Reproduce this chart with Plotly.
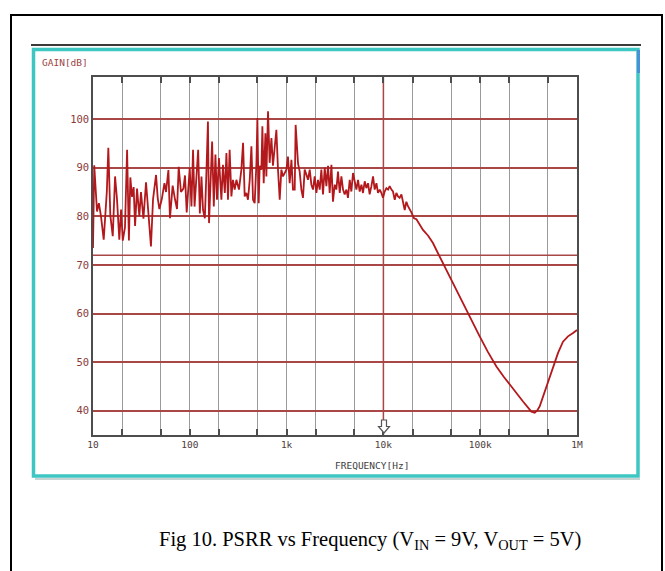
import plotly.graph_objects as go

# ---- measured PSRR sweep (frequency in Hz, gain in dB) ----
freq_a = [10.0, 10.3, 11.0, 11.5, 12.1, 12.9, 13.9, 14.4, 15.1, 16.0, 16.9, 17.7, 18.7, 19.5,
          20.3, 21.4, 22.5, 23.5, 24.3, 25.3, 26.3, 27.2, 28.5, 30.1, 31.3, 33.2, 35.3, 37.3,
          39.7, 41.7, 44.8, 46.6, 48.5, 51.3, 54.7, 56.8, 60.1, 62.4, 66.5, 70.3, 73.8, 76.8,
          81.1, 85.9, 89.2, 92.9, 97.5]
gain_a = [73.5, 90.5, 81.0, 82.7, 80.0, 75.2, 85.1, 94.1, 80.2, 75.9, 88.2, 83.5, 75.2, 81.4,
          75.0, 77.7, 93.7, 75.0, 88.0, 84.0, 86.0, 78.0, 85.7, 80.0, 85.0, 79.5, 87.0, 81.5,
          73.8, 83.5, 88.5, 83.8, 81.5, 83.5, 86.8, 85.0, 89.5, 79.6, 86.3, 83.5, 81.5, 90.2,
          85.0, 85.7, 88.4, 80.8, 87.6]

freq_b = [99.8, 104, 108, 112, 117, 122, 127, 132, 137, 143, 148, 154, 158, 163, 170, 177,
          184, 191, 200, 212, 220, 230, 239, 248, 258, 269, 279, 291, 303, 322, 341, 355,
          369, 384, 399, 416, 433, 450, 468, 488, 499, 515, 527, 549, 562, 580, 604, 618,
          643, 668, 697, 723, 753, 784, 815, 849, 883, 918, 995, 1033, 1076, 1122, 1164, 1213]
gain_b = [90.0, 82.0, 93.7, 82.0, 87.5, 93.7, 80.6, 88.2, 81.3, 79.6, 88.2, 99.5, 78.6, 87.5,
          95.4, 82.0, 92.7, 83.4, 92.0, 83.4, 90.6, 84.8, 93.0, 83.4, 93.7, 84.1, 87.5, 85.5,
          87.5, 85.5, 89.6, 95.1, 84.1, 84.8, 83.4, 87.5, 94.4, 83.4, 82.7, 91.0, 100.2, 82.7,
          90.4, 89.6, 98.5, 86.8, 97.1, 88.2, 101.6, 91.0, 96.1, 90.4, 93.7, 97.8, 89.6, 83.4,
          89.6, 88.2, 89.6, 92.3, 86.8, 91.6, 85.5, 85.5]

freq_c = [1240, 1312, 1365, 1421, 1476, 1538, 1600, 1663, 1733, 1803, 1875, 1950, 2032, 2109,
          2198, 2286, 2377, 2477, 2576, 2679, 2786, 2904, 3013, 3141, 3266, 3396, 3540, 3681,
          3828, 3981, 4150, 4305, 4487, 4667, 4853, 5058, 5260, 5470, 5689, 5929, 6152, 6412,
          6668, 6934, 7211, 7516, 7816, 8128, 8472, 8790, 9162, 9528, 9908, 10304, 10740,
          11169, 11614, 12106, 12560, 13092, 13614, 14158, 14723, 15346, 16596, 17256, 17947,
          19454, 20701, 21928, 23714, 25645]
gain_c = [98.8, 90.9, 89.2, 85.5, 83.8, 89.6, 88.6, 87.5, 89.6, 86.5, 85.5, 88.2, 84.8, 87.5,
          85.5, 89.6, 84.5, 90.0, 86.2, 90.4, 84.8, 90.6, 83.0, 86.5, 85.5, 89.2, 84.8, 88.2,
          85.5, 84.5, 85.5, 83.8, 87.5, 85.1, 88.9, 86.8, 85.5, 87.5, 85.1, 86.5, 84.8, 87.2,
          85.8, 86.8, 84.5, 86.2, 88.2, 85.5, 86.8, 84.8, 85.5, 84.8, 83.8, 85.1, 85.8,
          85.5, 86.2, 85.5, 85.1, 83.4, 84.8, 84.1, 83.8, 84.5, 81.3, 83.0, 82.1,
          80.8, 79.6, 79.4, 78.3, 77.2]

freq_d = [29000, 32500, 36000, 39700, 45000, 50400, 58000, 66400, 80000, 98800, 120000,
          147000, 175000, 202000, 240000, 277000, 310000, 338000, 366000, 390000, 412000,
          445000, 483000, 525000, 565000, 600000, 637000, 717000, 807000, 910000, 1000000]
gain_d = [76.0, 74.5, 72.7, 71.0, 69.0, 66.9, 64.5, 62.1, 58.7, 55.3, 52.1,
          49.1, 47.0, 45.3, 43.5, 41.9, 40.7, 39.8, 39.6, 40.1, 40.9,
          42.8, 45.0, 47.2, 49.1, 50.6, 51.9, 54.2, 55.3, 56.0, 56.6]

freq_hz = freq_a + freq_b + freq_c + freq_d
gain_db = gain_a + gain_b + gain_c + gain_d

# axis grid / labels
decade_freqs = [10, 100, 1e3, 1e4, 1e5, 1e6]
decade_text = ["10", "100", "1k", "10k", "100k", "1M"]
minor_freqs = [20, 50, 200, 500, 2e3, 5e3, 2e4, 5e4, 2e5, 5e5]
gain_ticks = [40, 50, 60, 70, 80, 90, 100]
cursor_freq = 1e4
cursor_gain = 72
y_min, y_max = 35, 108.66

# ---- page geometry ----
W_PAGE, H_PAGE = 665, 571
L, R, T, B = 93, 88, 77, 136
PW = W_PAGE - L - R
PH = H_PAGE - T - B


def xp(px):
    return (px - L) / PW


def yp(py):
    return 1 - (py - T) / PH


def path(points):
    return "M " + " L ".join(f"{xp(a):.5f},{yp(b):.5f}" for a, b in points) + " Z"


GRID_RED = "#a94646"
GRID_GRAY = "#9a9a9a"
FRAME = "#4d4d4d"
CYAN = "#3ec6c3"
CURVE = "#b3191c"
MONO = "DejaVu Sans Mono"

fig = go.Figure()

# cursor lines
fig.add_trace(go.Scatter(x=[cursor_freq, cursor_freq], y=[y_min, y_max], mode="lines",
                         line=dict(color=GRID_RED, width=1.5), hoverinfo="skip", showlegend=False))
fig.add_trace(go.Scatter(x=[decade_freqs[0], decade_freqs[-1]], y=[cursor_gain, cursor_gain],
                         mode="lines", line=dict(color=GRID_RED, width=1.5),
                         hoverinfo="skip", showlegend=False))

# PSRR curve
fig.add_trace(go.Scatter(x=freq_hz, y=gain_db, mode="lines",
                         line=dict(color=CURVE, width=1.8), showlegend=False))

# hollow cursor arrow at the bottom of the 10k line
arrow = [(381.5, 420), (386.5, 420), (386.5, 426.5), (389.5, 426.5), (384, 433),
         (378.5, 426.5), (381.5, 426.5)]

fig.update_layout(
    width=W_PAGE, height=H_PAGE,
    margin=dict(l=L, r=R, t=T, b=B, autoexpand=False),
    paper_bgcolor="white", plot_bgcolor="white",
    xaxis=dict(type="log", range=[1, 6], tickmode="array", tickvals=decade_freqs, ticktext=decade_text,
               showgrid=True, gridcolor=GRID_GRAY, gridwidth=1,
               ticks="inside", ticklen=6, tickwidth=1.5, tickcolor=FRAME,
               minor=dict(tickmode="array", tickvals=minor_freqs, ticks="inside", ticklen=6,
                          tickwidth=1.5, tickcolor=FRAME, showgrid=True,
                          gridcolor=GRID_GRAY, gridwidth=1),
               showline=True, linecolor=FRAME, linewidth=1.5, mirror="ticks", zeroline=False,
               tickfont=dict(family=MONO, size=9.5, color="#4e3c3c")),
    yaxis=dict(range=[y_min, y_max], tickmode="array", tickvals=gain_ticks,
               showgrid=True, gridcolor=GRID_RED, gridwidth=1.5, ticks="",
               showline=True, linecolor=FRAME, linewidth=1.5, mirror=True, zeroline=False,
               tickfont=dict(family=MONO, size=10.5, color="#8a3a3a")),
    shapes=[
        dict(type="rect", xref="paper", yref="paper", x0=xp(11), x1=xp(662), y0=yp(15), y1=yp(580),
             line=dict(color="black", width=2)),
        dict(type="line", xref="paper", yref="paper", x0=xp(31), x1=xp(641), y0=yp(45), y1=yp(45),
             line=dict(color="#3a3a3a", width=2)),
        dict(type="line", xref="paper", yref="paper", x0=xp(35), x1=xp(640), y0=yp(479), y1=yp(479),
             line=dict(color="#c8d4d4", width=2)),
        dict(type="rect", xref="paper", yref="paper", x0=xp(33.5), x1=xp(638), y0=yp(49.5), y1=yp(476),
             line=dict(color=CYAN, width=3.5)),
        dict(type="line", xref="paper", yref="paper", x0=xp(638.5), x1=xp(638.5), y0=yp(50), y1=yp(73),
             line=dict(color="#4a90d9", width=3)),
        dict(type="path", xref="paper", yref="paper", path=path(arrow),
             fillcolor="white", line=dict(color="#555555", width=1.2)),
    ],
    annotations=[
        dict(text="GAIN[dB]", xref="paper", yref="paper", x=xp(40), y=yp(62.5),
             xanchor="left", yanchor="middle", showarrow=False,
             font=dict(family=MONO, size=9.5, color="#9b4444")),
        dict(text="FREQUENCY[Hz]", xref="paper", yref="paper", x=xp(372), y=yp(465),
             xanchor="center", yanchor="middle", showarrow=False,
             font=dict(family=MONO, size=9.5, color="#3d3d3d")),
        dict(text="Fig 10. PSRR vs Frequency (V<sub>IN</sub> = 9V, V<sub>OUT</sub> = 5V)",
             xref="paper", yref="paper", x=xp(370), y=yp(540),
             xanchor="center", yanchor="middle", showarrow=False,
             font=dict(family="Liberation Serif", size=20.5, color="black")),
    ],
)

fig.write_html("out.html")
